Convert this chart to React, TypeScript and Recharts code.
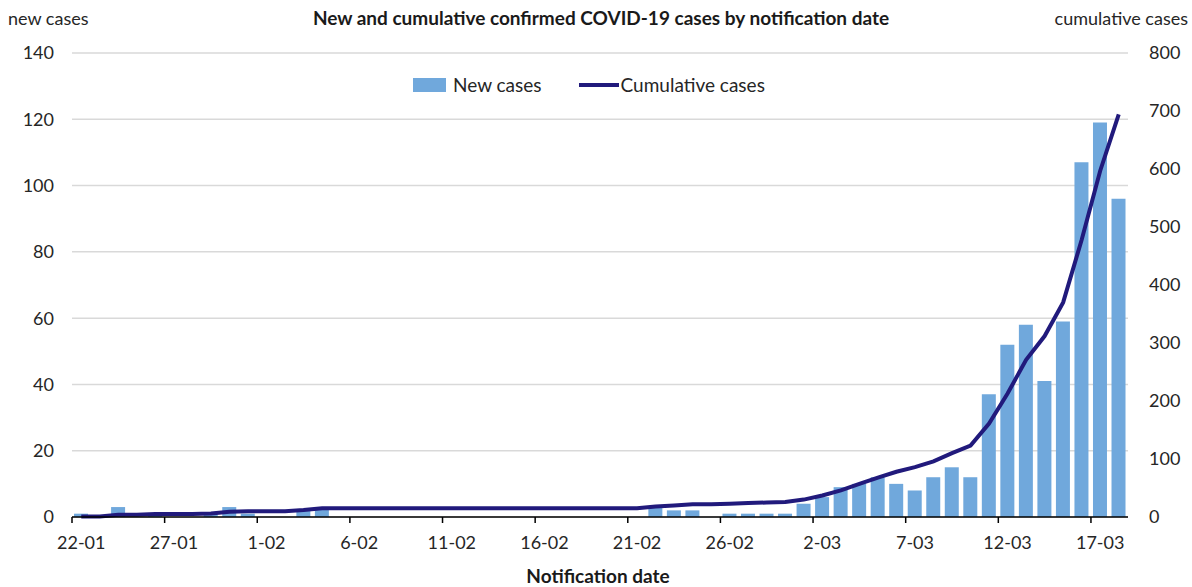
import React from "react";
import {
  ComposedChart,
  Bar,
  Line,
  XAxis,
  YAxis,
  CartesianGrid,
} from "recharts";

// notification dates 22-01 .. 18-03 (2020)
const dates = [
  "22-01", "23-01", "24-01", "25-01", "26-01", "27-01", "28-01", "29-01", "30-01", "31-01",
  "1-02", "2-02", "3-02", "4-02", "5-02", "6-02", "7-02", "8-02", "9-02", "10-02",
  "11-02", "12-02", "13-02", "14-02", "15-02", "16-02", "17-02", "18-02", "19-02", "20-02",
  "21-02", "22-02", "23-02", "24-02", "25-02", "26-02", "27-02", "28-02", "29-02", "1-03",
  "2-03", "3-03", "4-03", "5-03", "6-03", "7-03", "8-03", "9-03", "10-03", "11-03",
  "12-03", "13-03", "14-03", "15-03", "16-03", "17-03", "18-03",
];

const newCases = [
  1, 0, 3, 0, 1, 0, 0, 1, 3, 1,
  0, 0, 2, 3, 0, 0, 0, 0, 0, 0,
  0, 0, 0, 0, 0, 0, 0, 0, 0, 0,
  0, 3, 2, 2, 0, 1, 1, 1, 1, 4,
  6, 9, 10, 12, 10, 8, 12, 15, 12, 37,
  52, 58, 41, 59, 107, 119, 96,
];

const cumulativeCases = [
  1, 1, 4, 4, 5, 5, 5, 6, 9, 10,
  10, 10, 12, 15, 15, 15, 15, 15, 15, 15,
  15, 15, 15, 15, 15, 15, 15, 15, 15, 15,
  15, 18, 20, 22, 22, 23, 24, 25, 26, 30,
  37, 46, 57, 68, 78, 86, 96, 110, 123, 161,
  213, 271, 312, 370, 478, 597, 694,
];

const leftTicks = [0, 20, 40, 60, 80, 100, 120, 140];
const rightTicks = [0, 100, 200, 300, 400, 500, 600, 700, 800];

const data = dates.map((d, i) => ({
  date: d,
  newCases: newCases[i],
  cumulative: cumulativeCases[i],
}));

const W = 1192;
const H = 587;
const PLOT_LEFT = 72;
const PLOT_RIGHT = 1128;
const FONT = "Lato, 'Open Sans', sans-serif";
const BAR_COLOR = "#70A8DC";
const LINE_COLOR = "#211A7C";
const TEXT_COLOR = "#262626";

const HALF_BAND = (PLOT_RIGHT - PLOT_LEFT) / dates.length / 2;

// Excel style: tick marks on the band edges, labels on the band centres
function DateTick(props: any) {
  const { x, y, payload } = props;
  const tx = x - HALF_BAND;
  return (
    <g>
      <line x1={tx} y1={y - 8} x2={tx} y2={y - 2} stroke="#000" strokeWidth={1.5} />
      <text
        x={x}
        y={y + 24}
        textAnchor="middle"
        fill={TEXT_COLOR}
        fontSize={18}
        fontFamily={FONT}
      >
        {payload.value}
      </text>
    </g>
  );
}

const label = (extra: React.CSSProperties): React.CSSProperties => ({
  position: "absolute",
  fontFamily: FONT,
  color: TEXT_COLOR,
  whiteSpace: "nowrap",
  ...extra,
});

export default function App() {
  return (
    <div style={{ position: "absolute", left: 0, top: 0, width: W, height: H, background: "#fff" }}>
      <ComposedChart
        width={W}
        height={H}
        data={data}
        margin={{ top: 53, right: 0, bottom: 30, left: 0 }}
        barCategoryGap="11%"
      >
        <CartesianGrid yAxisId="left" vertical={false} stroke="#D9D9D9" strokeWidth={1.5} />
        <XAxis
          dataKey="date"
          interval={4}
          tick={<DateTick />}
          tickLine={false}
          axisLine={{ stroke: "#000", strokeWidth: 1.5 }}
          height={40}
        />
        <YAxis
          yAxisId="left"
          orientation="left"
          width={PLOT_LEFT}
          domain={[0, 140]}
          ticks={leftTicks}
          axisLine={false}
          tickLine={false}
          tickSize={0}
          tickMargin={18}
          tick={{ fill: TEXT_COLOR, fontSize: 18, fontFamily: FONT }}
        />
        <YAxis
          yAxisId="right"
          orientation="right"
          width={W - PLOT_RIGHT}
          domain={[0, 800]}
          ticks={rightTicks}
          axisLine={false}
          tickLine={false}
          tickSize={0}
          tickMargin={21}
          tick={{ fill: TEXT_COLOR, fontSize: 18, fontFamily: FONT }}
        />
        <Bar
          yAxisId="left"
          dataKey="newCases"
          name="New cases"
          fill={BAR_COLOR}
          isAnimationActive={false}
        />
        <Line
          yAxisId="right"
          dataKey="cumulative"
          name="Cumulative cases"
          type="linear"
          stroke={LINE_COLOR}
          strokeWidth={4}
          dot={false}
          activeDot={false}
          isAnimationActive={false}
        />
      </ComposedChart>

      <div style={label({ left: 8, top: 7, fontSize: 18 })}>new cases</div>
      <div
        style={label({
          left: 0,
          width: 1202,
          top: 6,
          textAlign: "center",
          fontSize: 19,
          fontWeight: 700,
          color: "#1a1a1a",
        })}
      >
        New and cumulative confirmed COVID-19 cases by notification date
      </div>
      <div style={label({ right: 4, top: 7, fontSize: 18 })}>cumulative cases</div>

      {/* legend */}
      <div
        style={label({
          left: 413,
          top: 73,
          fontSize: 19,
          display: "flex",
          alignItems: "center",
        })}
      >
        <span style={{ display: "inline-block", width: 33, height: 14, background: BAR_COLOR, marginRight: 7 }} />
        <span style={{ marginRight: 37 }}>New cases</span>
        <span style={{ display: "inline-block", width: 40, height: 4, background: LINE_COLOR, marginRight: 2 }} />
        <span>Cumulative cases</span>
      </div>

      <div
        style={label({
          left: 0,
          width: 1196,
          top: 564,
          textAlign: "center",
          fontSize: 19,
          fontWeight: 700,
          color: "#1a1a1a",
        })}
      >
        Notification date
      </div>
    </div>
  );
}
